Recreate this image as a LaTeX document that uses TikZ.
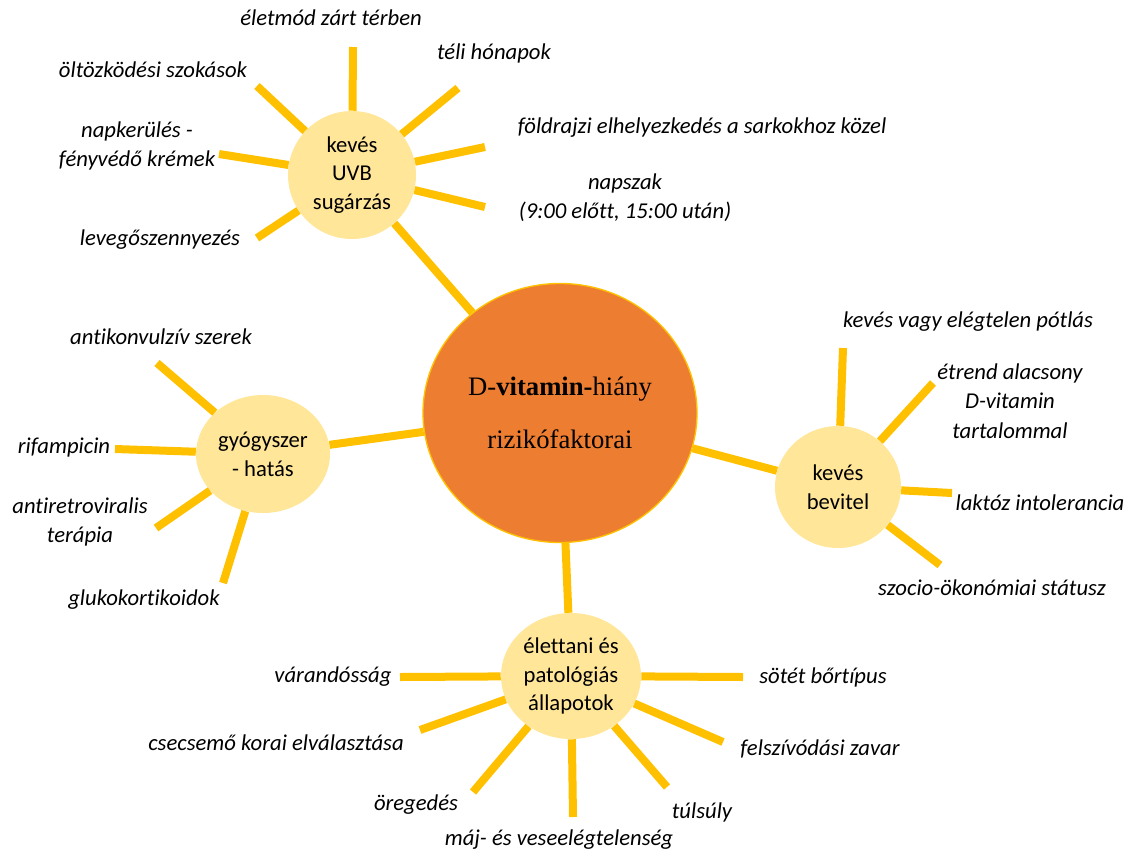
\documentclass[tikz,border=0pt]{standalone}
\usepackage{fontspec}
\setmainfont{Carlito}[Ligatures=NoCommon]
\newfontfamily\timesfont{Liberation Serif}
\usetikzlibrary{shapes.geometric}
\definecolor{raycol}{RGB}{255,192,0}
\definecolor{hubfill}{RGB}{255,230,153}
\definecolor{corefill}{RGB}{237,125,49}
\tikzset{
  hub/.style={ellipse, fill=hubfill, inner sep=0pt, align=center, font=\fontsize{17}{21.5}\selectfont},
  ray/.style={draw=raycol, line width=6pt},
  lbl/.style={inner sep=0pt, align=center, font=\fontsize{17}{22}\selectfont\itshape}
}
\begin{document}
\begin{tikzpicture}[x=0.75pt,y=0.75pt,yscale=-1,xscale=1]
\useasboundingbox (0,0) rectangle (1131,854);

% Hubs
\node [ellipse, fill=corefill, draw=raycol, line width=1pt, inner sep=0pt, minimum width=274*0.75pt, minimum height=259*0.75pt, align=center, font=\timesfont\fontsize{20}{40}\selectfont] (core) at (560,413) {D-\textbf{vitamin-}hiány\\rizikófaktorai};
\node [hub, minimum width=128*0.75pt, minimum height=128*0.75pt] (uvb) at (352,175) {kevés\\UVB\\sugárzás};
\node [hub, minimum width=134*0.75pt, minimum height=118*0.75pt] (gyogy) at (263,454) {gyógyszer\\- hatás};
\node [hub, minimum width=126*0.75pt, minimum height=122*0.75pt] (bevitel) at (838,487) {kevés\\bevitel};
\node [hub, minimum width=140*0.75pt, minimum height=126*0.75pt] (elettani) at (571,676) {élettani és\\patológiás\\állapotok};

% Hub to core
\draw [ray] (core) -- (uvb);
\draw [ray] (core) -- (gyogy);
\draw [ray] (core) -- (bevitel);
\draw [ray] (core) -- (elettani);

% Ray ends
\coordinate (u1) at (353,47);
\coordinate (u2) at (458,88);
\coordinate (u3) at (485,147);
\coordinate (u4) at (485,207);
\coordinate (u5) at (257,86);
\coordinate (u6) at (219,154);
\coordinate (u7) at (257,238);
\coordinate (g1) at (157,363);
\coordinate (g2) at (115,449);
\coordinate (g3) at (156,528);
\coordinate (g4) at (223,583);
\coordinate (b1) at (843,348);
\coordinate (b2) at (933,383);
\coordinate (b3) at (952,493);
\coordinate (b4) at (940,565);
\coordinate (e1) at (400,677);
\coordinate (e2) at (743,677);
\coordinate (e3) at (420,730);
\coordinate (e4) at (473,792);
\coordinate (e5) at (573,817);
\coordinate (e6) at (667,787);
\coordinate (e7) at (723,742);

\foreach \r in {u1,u2,u3,u4,u5,u6,u7} \draw [ray] (uvb) -- (\r);
\foreach \r in {g1,g2,g3,g4} \draw [ray] (gyogy) -- (\r);
\foreach \r in {b1,b2,b3,b4} \draw [ray] (bevitel) -- (\r);
\foreach \r in {e1,e2,e3,e4,e5,e6,e7} \draw [ray] (elettani) -- (\r);

% Text Node
\node [lbl] (eletmod) at (331,18) {életmód zárt térben};
\node [lbl] (teli) at (494,53) {téli hónapok};
\node [lbl] (oltozk) at (153,70) {öltözködési szokások};
\node [lbl] (foldr) at (702,128) {földrajzi elhelyezkedés a sarkokhoz közel};
\node [lbl] (napker) at (137,146) {napkerülés -\\fényvédő krémek};
\node [lbl] (napszak) at (625,198) {napszak\\(9:00 előtt, 15:00 után)};
\node [lbl] (levego) at (160,240) {levegőszennyezés};
% Text Node
\node [lbl] (antik) at (161,337) {antikonvulzív szerek};
\node [lbl] (rifam) at (64,448) {rifampicin};
\node [lbl] (antir) at (80,522) {antiretroviralis\\terápia};
\node [lbl] (gluko) at (144,600) {glukokortikoidok};
% Text Node
\node [lbl] (potlas) at (968,322) {kevés vagy elégtelen pótlás};
\node [lbl] (etrend) at (1010,401) {étrend alacsony\\D-vitamin\\tartalommal};
\node [lbl] (laktoz) at (1040,503) {laktóz intolerancia};
\node [lbl] (szocio) at (992,588) {szocio-ökonómiai státusz};
% Text Node
\node [lbl] (varand) at (333,677) {várandósság};
\node [lbl] (sotet) at (823,677) {sötét bőrtípus};
\node [lbl] (csecs) at (276,743) {csecsemő korai elválasztása};
\node [lbl] (felsz) at (820,749) {felszívódási zavar};
\node [lbl] (oreg) at (416,805) {öregedés};
\node [lbl] (tulsuly) at (702,812) {túlsúly};
\node [lbl] (maj) at (559,840) {máj- és veseelégtelenség};

\end{tikzpicture}
\end{document}
